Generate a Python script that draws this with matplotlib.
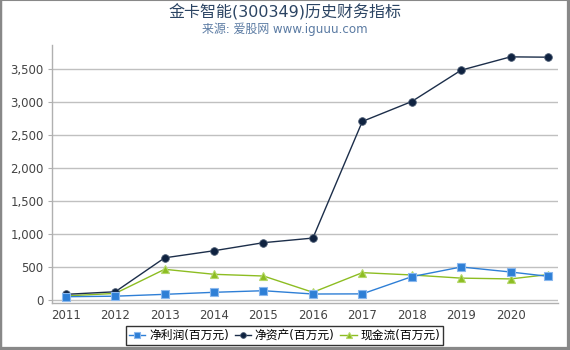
import matplotlib
matplotlib.use("Agg")
import matplotlib.pyplot as plt
from matplotlib.ticker import FuncFormatter
from matplotlib.lines import Line2D

plt.rcParams['font.family'] = ['DejaVu Sans', 'Noto Sans CJK SC']

years = [2011, 2012, 2013, 2014, 2015, 2016, 2017, 2018, 2019, 2020, 2020.75]
year_ticks = [2011, 2012, 2013, 2014, 2015, 2016, 2017, 2018, 2019, 2020]
net_profit = [50, 58, 86, 117, 141, 91, 93, 354, 501, 425, 360]
net_assets = [86, 125, 640, 748, 870, 940, 2710, 3012, 3488, 3690, 3685]
cash_flow = [62, 100, 466, 390, 364, 117, 415, 380, 332, 320, 385]
labels = ['净利润(百万元)', '净资产(百万元)', '现金流(百万元)']

fig = plt.figure(figsize=(5.7, 3.5), dpi=100)
ax = fig.add_axes([52/570, 1-303.3/350, (558-52)/570, (303.3-45)/350])

l3, = ax.plot(years, cash_flow, color='#8dbd22', lw=1.0, marker='^', ms=6,
              mec='#b5d86a', mfc='#8dbd22', mew=0.8, zorder=3, label=labels[2])
l2, = ax.plot(years, net_assets, color='#1c2e4a', lw=1.0, marker='o', ms=5.5,
              mec='#4a5a72', mfc='#0f2240', mew=0.6, zorder=4, label=labels[1])
l1, = ax.plot(years, net_profit, color='#2e7fd6', lw=1.0, marker='s', ms=5.5,
              mec='#8ab8ee', mfc='#2e7fd6', mew=0.8, zorder=5, label=labels[0])

ax.set_xlim(2010.72, 2020.96)
ax.set_ylim(-50, 3870)
ax.set_yticks([0, 500, 1000, 1500, 2000, 2500, 3000, 3500])
ax.yaxis.set_major_formatter(FuncFormatter(lambda v, p: f'{int(v):,}'))
ax.set_xticks(year_ticks)
ax.set_xticklabels([str(y) for y in year_ticks])

ax.grid(axis='y', color='#c0c0c0', lw=1.0)
ax.set_axisbelow(True)
for s in ['top', 'right']:
    ax.spines[s].set_visible(False)
for s in ['left', 'bottom']:
    ax.spines[s].set_color('#b0b0b0')
    ax.spines[s].set_linewidth(1.0)
ax.tick_params(axis='y', length=3, color='#b0b0b0', labelsize=8.5, labelcolor='#444444', pad=3)
ax.tick_params(axis='x', length=0, labelsize=8.5, labelcolor='#444444', pad=4)

fig.text(0.5, 1-12/350, '金卡智能(300349)历史财务指标', ha='center', va='center',
         fontsize=11.5, color='#2b4463')
fig.text(0.5, 1-29.5/350, '来源: 爱股网 www.iguuu.com', ha='center', va='center',
         fontsize=8.6, color='#5b7ba3')

leg = fig.legend(handles=[l1, l2, l3], labels=labels, loc='center',
                 bbox_to_anchor=(284.5/570, 1-335.5/350), ncol=3, frameon=True,
                 fontsize=8.5, fancybox=False, edgecolor='black', handlelength=1.4,
                 handletextpad=0.3, columnspacing=0.5, borderpad=0.25,
                 markerscale=0.75, borderaxespad=0)
leg.get_frame().set_linewidth(1.0)

gray = '#888888'
fig.lines.append(Line2D([0, 1], [1, 1], transform=fig.transFigure, color=gray, lw=1.5))
fig.lines.append(Line2D([0, 0], [0, 1], transform=fig.transFigure, color=gray, lw=2.5))
fig.lines.append(Line2D([1, 1], [0, 1], transform=fig.transFigure, color=gray, lw=4.5))
fig.lines.append(Line2D([0, 1], [0, 0], transform=fig.transFigure, color=gray, lw=4.5))

fig.savefig('out.png', dpi=100)
